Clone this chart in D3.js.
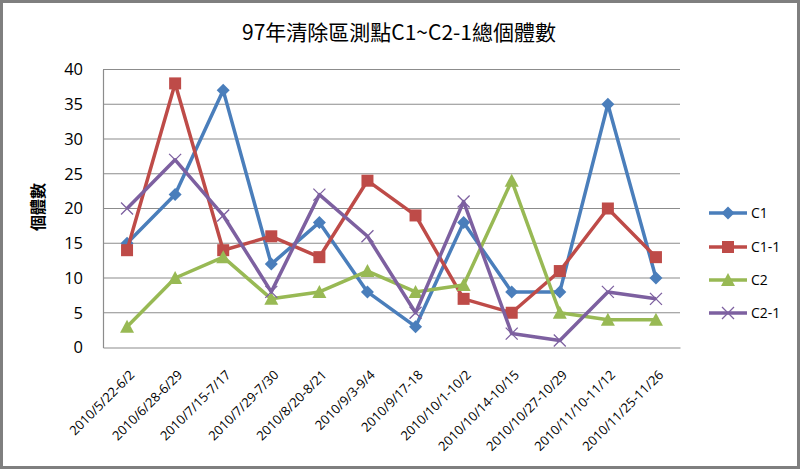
<!DOCTYPE html>
<html><head><meta charset="utf-8">
<script src="https://cdn.jsdelivr.net/npm/d3@7/dist/d3.min.js"></script>
<style>body{margin:0;background:#fff;}svg{display:block;}</style>
</head><body>
<svg id="chart" width="800" height="469"></svg>
<script>
const categories = ["2010/5/22-6/2","2010/6/28-6/29","2010/7/15-7/17","2010/7/29-7/30","2010/8/20-8/21","2010/9/3-9/4","2010/9/17-18","2010/10/1-10/2","2010/10/14-10/15","2010/10/27-10/29","2010/11/10-11/12","2010/11/25-11/26"];
const c1   = [15,22,37,12,18,8,3,18,8,8,35,10];
const c1_1 = [14,38,14,16,13,24,19,7,5,11,20,13];
const c2   = [3,10,13,7,8,11,8,9,24,5,4,4];
const c2_1 = [20,27,19,8,22,16,5,21,2,1,8,7];
const seriesNames = ["C1","C1-1","C2","C2-1"];
const yTicks = [0,5,10,15,20,25,30,35,40];
const title = "97年清除區測點C1~C2-1總個體數";
const yTitle = "個體數";

const series = [
  {name: seriesNames[0], values: c1,   color: "#4A7EBB", marker: "diamond"},
  {name: seriesNames[1], values: c1_1, color: "#BE4B48", marker: "square"},
  {name: seriesNames[2], values: c2,   color: "#98B954", marker: "triangle"},
  {name: seriesNames[3], values: c2_1, color: "#7D60A0", marker: "cross"}
];

const svg = d3.select("#chart");
const W = 800, H = 469;
const m = {left:103, right:680, top:69.5, bottom:347.5};

svg.append("rect").attr("x",1.5).attr("y",1.5).attr("width",W-3).attr("height",H-3)
  .attr("fill","#fff").attr("stroke","#7f7f7f").attr("stroke-width",3);

const x = d3.scaleBand().domain(categories).range([m.left, m.right]);
const y = d3.scaleLinear().domain([0,40]).range([m.bottom, m.top]);

// gridlines
svg.append("g").selectAll("line").data(yTicks.filter(t=>t>0)).join("line")
  .attr("x1",m.left).attr("x2",m.right)
  .attr("y1",d=>y(d)).attr("y2",d=>y(d))
  .attr("stroke","#8c8c8c").attr("stroke-width",1.2);

// y axis
const yAxis = svg.append("g").attr("transform",`translate(${m.left},0)`)
  .call(d3.axisLeft(y).tickValues(yTicks).tickSize(0).tickPadding(20));
yAxis.select(".domain").attr("stroke","#8c8c8c").attr("stroke-width",1.2);
yAxis.selectAll("text").attr("font-family","'Open Sans', sans-serif").attr("font-size",16.5).attr("fill","#000");

// x axis
const xAxis = svg.append("g").attr("transform",`translate(0,${m.bottom})`)
  .call(d3.axisBottom(x).tickSize(0).tickPadding(0));
xAxis.select(".domain").attr("stroke","#8c8c8c").attr("stroke-width",1.2);
xAxis.selectAll(".tick text")
  .attr("font-family","'Open Sans', sans-serif").attr("font-size",13).attr("fill","#000")
  .attr("text-anchor","end")
  .attr("transform","translate(5,25) rotate(-45)")
  .attr("dy","0.35em").attr("y",0);

// title
svg.append("text").attr("x",399).attr("y",40).attr("text-anchor","middle")
  .attr("font-family","'Noto Sans CJK TC', sans-serif").attr("font-size",21)
  .attr("fill","#000").text(title);

svg.append("text").attr("transform","translate(44,207) rotate(-90)")
  .attr("text-anchor","middle")
  .attr("font-family","'Noto Sans CJK TC', sans-serif").attr("font-size",16).attr("font-weight","bold")
  .attr("fill","#000").text(yTitle);

const line = d3.line().x((d,i)=>x(categories[i])+x.bandwidth()/2).y(d=>y(d));

function drawMarker(g, type, cx, cy, color){
  if(type==="diamond"){
    g.append("path").attr("d",`M${cx},${cy-6.5}L${cx+6.5},${cy}L${cx},${cy+6.5}L${cx-6.5},${cy}Z`).attr("fill",color);
  } else if(type==="square"){
    g.append("rect").attr("x",cx-6).attr("y",cy-6).attr("width",12).attr("height",12).attr("fill",color);
  } else if(type==="triangle"){
    g.append("path").attr("d",`M${cx},${cy-7}L${cx+7},${cy+6}L${cx-7},${cy+6}Z`).attr("fill",color);
  } else {
    g.append("path").attr("d",`M${cx-6},${cy-6}L${cx+6},${cy+6}M${cx-6},${cy+6}L${cx+6},${cy-6}`)
      .attr("stroke",color).attr("stroke-width",1.3).attr("fill","none");
  }
}

series.forEach(s=>{
  const g = svg.append("g");
  g.append("path").datum(s.values).attr("d",line).attr("fill","none")
    .attr("stroke",s.color).attr("stroke-width",3.5).attr("stroke-linejoin","round");
  s.values.forEach((v,i)=>drawMarker(g, s.marker, x(categories[i])+x.bandwidth()/2, y(v), s.color));
});

// legend
const legY = [213,247,280,313];
series.forEach((s,i)=>{
  const g = svg.append("g");
  g.append("line").attr("x1",709).attr("x2",747).attr("y1",legY[i]).attr("y2",legY[i])
    .attr("stroke",s.color).attr("stroke-width",3.5);
  drawMarker(g, s.marker, 728, legY[i], s.color);
  g.append("text").attr("x",751).attr("y",legY[i]).attr("dy","0.35em")
    .attr("font-family","'Open Sans', sans-serif").attr("font-size",14).attr("fill","#000").text(s.name);
});
</script>
</body></html>
